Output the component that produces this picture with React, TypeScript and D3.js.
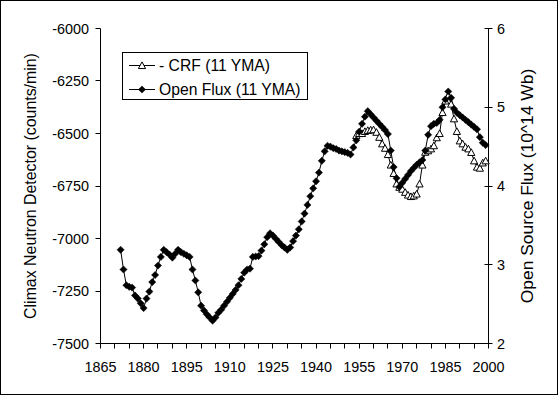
import React from 'react';
import * as d3 from 'd3';

const W = 559;
const H = 396;

const fluxYears: number[] = d3.range(1872, 2000);
const fluxValues: number[] = [
  3.19, 2.94, 2.74, 2.72, 2.71, 2.61, 2.57, 2.51, 2.45, 2.57,
  2.66, 2.78, 2.87, 2.99, 3.10, 3.19, 3.16, 3.13, 3.09, 3.14,
  3.19, 3.16, 3.14, 3.12, 3.10, 2.94, 2.80, 2.65, 2.48, 2.42,
  2.37, 2.33, 2.29, 2.33, 2.39, 2.43, 2.48, 2.53, 2.58, 2.63,
  2.68, 2.74, 2.82, 2.90, 2.94, 2.95, 3.10, 3.105, 3.11, 3.18,
  3.26, 3.35, 3.40, 3.37, 3.33, 3.29, 3.25, 3.22, 3.19, 3.22,
  3.30, 3.37, 3.45, 3.55, 3.65, 3.76, 3.87, 3.97, 4.06, 4.17,
  4.32, 4.44, 4.51, 4.50, 4.48, 4.47, 4.45, 4.44, 4.43, 4.42,
  4.40, 4.49, 4.58, 4.69, 4.79, 4.88, 4.95, 4.91, 4.87, 4.83,
  4.79, 4.75, 4.71, 4.66, 4.45, 4.24, 4.10, 3.99, 4.04, 4.09,
  4.14, 4.19, 4.23, 4.27, 4.30, 4.33, 4.45, 4.65, 4.76, 4.79,
  4.80, 4.84, 5.00, 5.10, 5.20, 5.12, 4.98, 4.93, 4.90, 4.87,
  4.84, 4.81, 4.78, 4.75, 4.72, 4.62, 4.55, 4.52,
];

const crfYears: number[] = d3.range(1954, 2000);
const crfValues: number[] = [
  -6510, -6500, -6500, -6490, -6485, -6483, -6482, -6494, -6518, -6549,
  -6570, -6600, -6650, -6690, -6740, -6756, -6765, -6780, -6793, -6800,
  -6797, -6788, -6740, -6650, -6589, -6582, -6573, -6558, -6520, -6500,
  -6400, -6345, -6320, -6360, -6430, -6490, -6535, -6549, -6565, -6573,
  -6590, -6630, -6660, -6665, -6640, -6630,
];

const xTickLabels: number[] = [1865, 1880, 1895, 1910, 1925, 1940, 1955, 1970, 1985, 2000];
const xMinorTicks: number[] = d3.range(1865, 2001, 5);
const leftTicks: number[] = [-6000, -6250, -6500, -6750, -7000, -7250, -7500];
const rightTicks: number[] = [2, 3, 4, 5, 6];

const legendLabels: string[] = ['- CRF (11 YMA)', 'Open Flux (11 YMA)'];
const leftTitle = 'Climax Neutron Detector (counts/min)';
const rightTitle = 'Open Source Flux (10^14 Wb)';

const FONT = '"Liberation Sans", Arial, sans-serif';

function diamond(cx: number, cy: number, r = 3.6) {
  return `M${cx},${cy - r}L${cx + r},${cy}L${cx},${cy + r}L${cx - r},${cy}Z`;
}
function triangle(cx: number, cy: number, r = 3.6) {
  return `M${cx},${cy - r}L${cx + r},${cy + r * 0.85}L${cx - r},${cy + r * 0.85}Z`;
}

export default function App() {
  const L = 100.5, R = 488.5, T = 28.5, B = 343.5;
  const x = d3.scaleLinear().domain([1865, 2000]).range([L, R]);
  const yL = d3.scaleLinear().domain([-7500, -6000]).range([B, T]);
  const yR = d3.scaleLinear().domain([2, 6]).range([B, T]);

  const fluxData = fluxYears.map((yr, i) => ({ yr, v: fluxValues[i] }));
  const crfData = crfYears.map((yr, i) => ({ yr, v: crfValues[i] }));

  const fluxLine = d3.line<{ yr: number; v: number }>().x(d => x(d.yr)).y(d => yR(d.v));
  const crfLine = d3.line<{ yr: number; v: number }>().x(d => x(d.yr)).y(d => yL(d.v));

  const snap = (v: number) => Math.round(v - 0.5) + 0.5;

  return (
    <svg width={W} height={H} style={{ position: 'absolute', left: 0, top: 0, background: '#fff' }}
      fontFamily={FONT}>
      <rect x={0.5} y={0.5} width={W - 2} height={H - 2} fill="#fff" stroke="#000" strokeWidth={1} />

      <line x1={L} y1={T} x2={L} y2={B} stroke="#000" />
      <line x1={R} y1={T} x2={R} y2={B} stroke="#000" />
      <line x1={L} y1={B} x2={R} y2={B} stroke="#000" />

      {leftTicks.map(t => (
        <g key={'l' + t}>
          <line x1={L - 5} x2={L} y1={snap(yL(t))} y2={snap(yL(t))} stroke="#000" />
          <text x={89} y={yL(t)} dy="0.36em" textAnchor="end" fontSize={14.4}>{t}</text>
        </g>
      ))}
      {rightTicks.map(t => (
        <g key={'r' + t}>
          <line x1={R - 4} x2={R + 4} y1={snap(yR(t))} y2={snap(yR(t))} stroke="#000" />
          <text x={497} y={yR(t)} dy="0.36em" textAnchor="start" fontSize={14.4}>{t}</text>
        </g>
      ))}
      {xMinorTicks.map(t => (
        <line key={'x' + t} x1={snap(x(t))} x2={snap(x(t))} y1={B} y2={B + 5} stroke="#000" />
      ))}
      {xTickLabels.map(t => (
        <text key={'xl' + t} x={x(t)} y={371.5} textAnchor="middle" fontSize={14.4}>{t}</text>
      ))}

      <text transform={`translate(30,186) rotate(-90)`} textAnchor="middle" dy="0.36em" fontSize={15.9}>{leftTitle}</text>
      <text transform={`translate(527,186) rotate(-90)`} textAnchor="middle" dy="0.36em" fontSize={17.4}>{rightTitle}</text>

      <path d={crfLine(crfData) || ''} fill="none" stroke="#000" strokeWidth={1} />
      <path d={fluxLine(fluxData) || ''} fill="none" stroke="#000" strokeWidth={1} />
      {crfData.map(d => (
        <path key={'c' + d.yr} d={triangle(x(d.yr), yL(d.v))} fill="#fff" stroke="#000" strokeWidth={1} />
      ))}
      {fluxData.map(d => (
        <path key={'f' + d.yr} d={diamond(x(d.yr), yR(d.v))} fill="#000" stroke="#000" strokeWidth={0.5} />
      ))}

      <rect x={122.5} y={52.5} width={185} height={47} fill="#fff" stroke="#000" />
      <line x1={129} x2={155} y1={65.5} y2={65.5} stroke="#000" />
      <path d={triangle(142, 65.5)} fill="#fff" stroke="#000" />
      <text x={159} y={71} fontSize={15.7}>{legendLabels[0]}</text>
      <line x1={129} x2={155} y1={89.5} y2={89.5} stroke="#000" />
      <path d={diamond(142, 89.5)} fill="#000" stroke="#000" strokeWidth={0.5} />
      <text x={159} y={95} fontSize={15.7}>{legendLabels[1]}</text>
    </svg>
  );
}
